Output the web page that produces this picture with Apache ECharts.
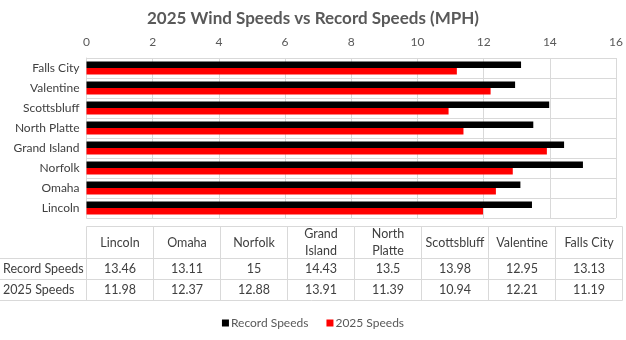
<!DOCTYPE html>
<html><head><meta charset="utf-8">
<script src="https://cdn.jsdelivr.net/npm/echarts@6/dist/echarts.min.js"></script>
<style>html,body{margin:0;padding:0;background:#fff}#c{width:626px;height:340px}</style>
</head><body><div id="c"></div>
<script>
var categories = ['Lincoln','Omaha','Norfolk','Grand Island','North Platte','Scottsbluff','Valentine','Falls City'];
var tableHeaders = ['Lincoln','Omaha','Norfolk','Grand\nIsland','North\nPlatte','Scottsbluff','Valentine','Falls City'];
var recordSpeeds = [13.46, 13.11, 15, 14.43, 13.5, 13.98, 12.95, 13.13];
var speeds2025 = [11.98, 12.37, 12.88, 13.91, 11.39, 10.94, 12.21, 11.19];
var seriesNames = ['Record Speeds','2025 Speeds'];
var axisTicks = [0,2,4,6,8,10,12,14,16];

var FONT = 'Lato, "Open Sans", sans-serif';
var chart = echarts.init(document.getElementById('c'), null, {renderer:'canvas'});

var tX0 = 86.5, colW = 67, rowLabelX = 3;
var rows = [226.5, 258.5, 279.5, 300.5];
var graphics = [];
var lineStyle = {stroke:'#d9d9d9', lineWidth:1};
function hline(x1,x2,y){graphics.push({type:'line',shape:{x1:x1,y1:y,x2:x2,y2:y},style:lineStyle,silent:true});}
function vline(x,y1,y2){graphics.push({type:'line',shape:{x1:x,y1:y1,x2:x,y2:y2},style:lineStyle,silent:true});}
var tX1 = tX0 + colW*categories.length;
hline(tX0, tX1, rows[0]);
hline(0, tX1, rows[1]);
hline(0, tX1, rows[2]);
hline(0, tX1, rows[3]);
for (var i=0;i<=categories.length;i++){ vline(tX0+colW*i, rows[0], rows[3]); }
function txt(x,y,s,align){graphics.push({type:'text',x:x,y:y,silent:true,style:{text:s,fill:'#404040',font:'12.5px '+FONT,textAlign:align,textVerticalAlign:'middle',lineHeight:17}});}
var tableRows = [recordSpeeds, speeds2025];
for (var i=0;i<categories.length;i++){
  var cx = tX0 + colW*i + colW/2;
  txt(cx, (rows[0]+rows[1])/2, tableHeaders[i], 'center');
  for (var r=0;r<2;r++){ txt(cx, (rows[r+1]+rows[r+2])/2, String(tableRows[r][i]), 'center'); }
}
for (var r=0;r<2;r++){ txt(rowLabelX, (rows[r+1]+rows[r+2])/2, seriesNames[r], 'left'); }

chart.setOption({
  animation:false,
  textStyle:{fontFamily:FONT},
  title:{text:'2025 Wind Speeds vs Record Speeds (MPH)', left:'center', top:5,
    textStyle:{fontFamily:FONT, fontSize:17, fontWeight:'bold', color:'#595959'}},
  legend:{data:seriesNames, bottom:6, left:'center', itemWidth:7, itemHeight:7, itemGap:18, icon:'rect',
    textStyle:{fontFamily:FONT, fontSize:12, color:'#595959', padding:[0,0,0,-3]}},
  grid:{left:86.5, right:9.5, top:58, height:160, containLabel:false},
  xAxis:{type:'value', position:'top', min:0, max:16, interval:2,
    axisLine:{show:false}, axisTick:{show:false},
    axisLabel:{color:'#595959', fontSize:12, fontFamily:FONT, margin:10},
    splitLine:{lineStyle:{color:'#d9d9d9'}}},
  yAxis:{type:'category', data:categories,
    axisLine:{show:true, lineStyle:{color:'#d9d9d9'}}, axisTick:{show:false},
    splitLine:{show:true, lineStyle:{color:'#d9d9d9'}},
    axisLabel:{color:'#404040', fontSize:12, fontFamily:FONT, margin:7}},
  series:[
    {name:seriesNames[0], type:'bar', data:recordSpeeds, barWidth:'32%', barGap:'0%', itemStyle:{color:'#000000'}},
    {name:seriesNames[1], type:'bar', data:speeds2025, barWidth:'32%', barGap:'0%', itemStyle:{color:'#ff0000'}}
  ],
  graphic:graphics
});
</script></body></html>
